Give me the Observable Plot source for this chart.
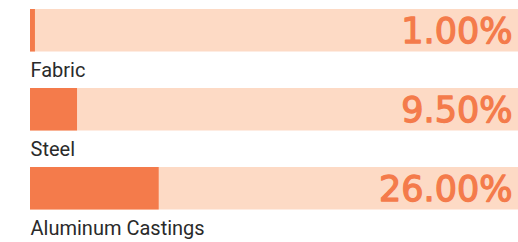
<!DOCTYPE html>
<html>
<head>
<meta charset="utf-8">
<script src="https://cdn.jsdelivr.net/npm/d3@7"></script>
<script src="https://cdn.jsdelivr.net/npm/@observablehq/plot@0.6"></script>
<style>
  html, body { margin: 0; padding: 0; background: #fff; overflow: hidden; }
</style>
</head>
<body>
<div id="chart"></div>
<script>
const categories = ["Fabric", "Steel", "Aluminum Castings"];
const values = [1.00, 9.50, 26.00];
const maxValue = 100;

const data = categories.map((c, i) => ({category: c, value: values[i], max: maxValue}));
const fmt = d => d3.format(".2f")(d) + "%";

const W = 518, H = 242;
const bandStep = 79.5;
const barH = 43;
const top0 = 8;

const chart = Plot.plot({
  width: W,
  height: H,
  margin: 0,
  x: {domain: [0, maxValue], range: [30, 525], axis: null},
  y: {domain: categories, range: [top0, top0 + bandStep * categories.length], padding: 0, axis: null},
  style: {background: "#fff", overflow: "hidden"},
  marks: [
    Plot.barX(data, {x1: 0, x2: "max", y: "category", fill: "#FDDAC5", insetTop: 0, insetBottom: bandStep - barH}),
    Plot.barX(data, {x1: 0, x2: "value", y: "category", fill: "#F47B4B", insetTop: 0, insetBottom: bandStep - barH}),
    Plot.text(data, {
      y: "category", text: d => fmt(d.value), frameAnchor: "right", textAnchor: "end",
      lineAnchor: "bottom", dx: -6, dy: top0 + 34 - (top0 + bandStep / 2),
      fill: "#F47B4B", stroke: "#F47B4B", strokeWidth: 1.3,
      fontFamily: "DejaVu Sans", fontWeight: "normal", fontSize: 35
    }),
    Plot.text(data, {
      y: "category", text: "category", frameAnchor: "left", textAnchor: "start",
      lineAnchor: "bottom", dx: 30, dy: 76 - (top0 + bandStep / 2),
      fill: "#2a2a2a", fontFamily: "Roboto", fontSize: 20
    })
  ]
});
document.getElementById("chart").appendChild(chart);
</script>
</body>
</html>
